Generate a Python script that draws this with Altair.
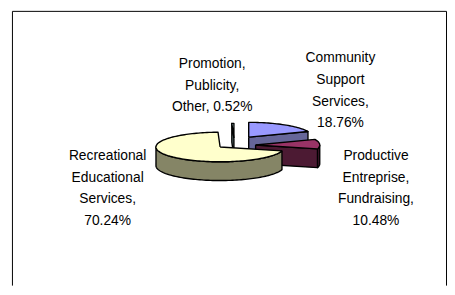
import math
import numpy as np
import pandas as pd
import altair as alt

# ---------------- data ----------------
categories = ["Community Support Services", "Productive Entreprise, Fundraising",
              "Recreational Educational Services", "Promotion, Publicity, Other"]
shares = [18.76, 10.48, 70.24, 0.52]
name_lines = [["Community", "Support", "Services,"],
              ["Productive", "Entreprise,", "Fundraising,"],
              ["Recreational", "Educational", "Services,"],
              ["Promotion,", "Publicity,", "Other,"]]

# ---------------- style / layout ----------------
pct_own_line = [True, True, True, False]
top_colors = ["#9999FF", "#993366", "#FFFFCC", "#CCFFFF"]
side_colors = ["#666699", "#4C1A33", "#858566", "#668080"]
CX, CY = 238.0, 140.0          # pie centre (frame units = px)
R, KR, DEPTH = 65.0, 15.0, 19.0  # x radius, y radius, thickness
explode = [(14, -3), (21, 5), (-15, 7), (-1, -2)]
label_anchor = [(345, 57), (381, 156), (109, 156), (215, 63)]  # first-line centre
draw_order = [3, 0, 1, 2]
X_DOM, Y_DOM = [12, 452], [9, 287]

# ---------------- geometry from the shares ----------------
bounds = np.concatenate([[0.0], np.cumsum(shares)]) * 3.6


def rim(c, th, z=0.0):
    t = math.radians(th)
    return (c[0] + R * math.sin(t), c[1] - KR * math.cos(t) + z)


def arc(lo, hi):
    n = max(2, int(math.ceil((hi - lo) / 2.0)) + 1)
    return np.linspace(lo, hi, n)


rows = []
sid = 0


def add(points, color):
    global sid
    pts = list(points) + [points[0]]
    for i, (x, y) in enumerate(pts):
        rows.append({"sid": f"s{sid:03d}", "i": i, "x": x, "y": y, "fill": color})
    sid += 1


for k in draw_order:
    a0, a1 = bounds[k], bounds[k + 1]
    c = (CX + explode[k][0], CY + explode[k][1])
    cd = (c[0], c[1] + DEPTH)
    lo, hi = max(a0, 90), min(a1, 270)
    if hi > lo:
        ths = arc(lo, hi)
        pts = [rim(c, t) for t in ths] + [rim(c, t, DEPTH) for t in ths[::-1]]
        add(pts, side_colors[k])
    if 180 < a0 < 360:
        add([c, rim(c, a0), rim(c, a0, DEPTH), cd], side_colors[k])
    if 0 < a1 < 180:
        add([c, rim(c, a1), rim(c, a1, DEPTH), cd], side_colors[k])
    add([c] + [rim(c, t) for t in arc(a0, a1)], top_colors[k])

poly_df = pd.DataFrame(rows)

lab_rows = []
for k in range(len(categories)):
    pct = f"{shares[k]:.2f}%"
    lines = list(name_lines[k])
    if pct_own_line[k]:
        lines.append(pct)
    else:
        lines[-1] = lines[-1] + " " + pct
    lab_rows.append({"x": label_anchor[k][0], "y": label_anchor[k][1],
                     "text": "\n".join(lines)})
lab_df = pd.DataFrame(lab_rows)

xs = alt.Scale(domain=X_DOM, nice=False, zero=False)
ys = alt.Scale(domain=Y_DOM, reverse=True, nice=False, zero=False)


def ax(orient):
    return alt.Axis(orient=orient, domain=True, domainColor="#000000", domainWidth=1,
                    ticks=False, labels=False, grid=False, title=None)


poly = alt.Chart(poly_df).mark_line(
    stroke="#000000", strokeWidth=1.4, strokeJoin="round"
).encode(
    x=alt.X("x:Q", scale=xs, axis=ax("top")),
    y=alt.Y("y:Q", scale=ys, axis=ax("left")),
    detail="sid:N",
    order="i:Q",
    fill=alt.Fill("fill:N", scale=None),
)

text = alt.Chart(lab_df).mark_text(
    font="Liberation Sans", fontSize=14, lineHeight=22, lineBreak="\n",
    align="center", baseline="middle", color="#000000"
).encode(
    x=alt.X("x:Q", scale=xs, axis=ax("top")),
    y=alt.Y("y:Q", scale=ys, axis=ax("right")),
    text="text:N",
)

chart = alt.layer(poly, text).resolve_axis(y="independent").properties(
    width=440, height=278,
    autosize=alt.AutoSizeParams(type="none"),
    padding={"left": 4, "top": 1, "right": 1, "bottom": 0},
    background="#FFFFFF",
).configure_view(stroke=None)

chart.save("out.html", embed_options={"renderer": "svg", "actions": False})
